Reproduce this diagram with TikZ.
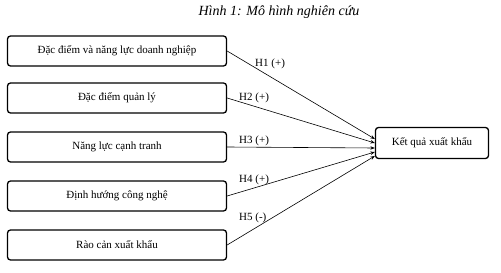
\documentclass[tikz,border=0pt]{standalone}
\usepackage{fontspec}
\setmainfont{Liberation Serif}
\usepackage{xcolor}
\usepackage{tikz}
\usetikzlibrary{calc,arrows.meta,positioning}
\definecolor{boxBlack}{RGB}{0,0,0}

\begin{document}
\begin{tikzpicture}[x=1pt,y=-1pt,
  factor/.style={draw=boxBlack, line width=1.3pt, rounded corners=3pt,
    minimum width=219pt, minimum height=30pt, inner sep=0pt, font=\fontsize{11}{13}\selectfont},
  outcome/.style={factor, minimum width=113pt, minimum height=31pt},
  link/.style={line width=0.6pt, -{Stealth[length=4.5pt,width=3.5pt]}},
  hyp/.style={anchor=west, inner sep=0pt, font=\fontsize{11}{13}\selectfont}]
\useasboundingbox (0,0) rectangle (501,273);

\node[font=\itshape\fontsize{14}{16}\selectfont] (title) at (279,12) {Hình 1: Mô hình nghiên cứu};

\node[factor] (dn) at (117,51) {Đặc điểm và năng lực doanh nghiệp};
\node[factor] (ql) at (117,98) {Đặc điểm quản lý};
\node[factor] (ct) at (117,147) {Năng lực cạnh tranh};
\node[factor] (cn) at (117,196) {Định hướng công nghệ};
\node[factor] (rc) at (117,245) {Rào cản xuất khẩu};

\node[outcome] (kq) at (432,143) {Kết quả xuất khẩu};

\draw[link] (dn.east) -- ($(kq.west)+(0,-4)$);
\draw[link] (ql.east) -- ($(kq.west)+(0,0)$);
\draw[link] (ct.east) -- ($(kq.west)+(0,5)$);
\draw[link] (cn.east) -- ($(kq.west)+(0,9)$);
\draw[link] (rc.east) -- ($(kq.west)+(0,13)$);

\node[hyp] (h1) at (255,64) {H1 (+)};
\node[hyp] (h2) at (239,98) {H2 (+)};
\node[hyp] (h3) at (239,141) {H3 (+)};
\node[hyp] (h4) at (239,180) {H4 (+)};
\node[hyp] (h5) at (239,218) {H5 (-)};
\end{tikzpicture}
\end{document}
